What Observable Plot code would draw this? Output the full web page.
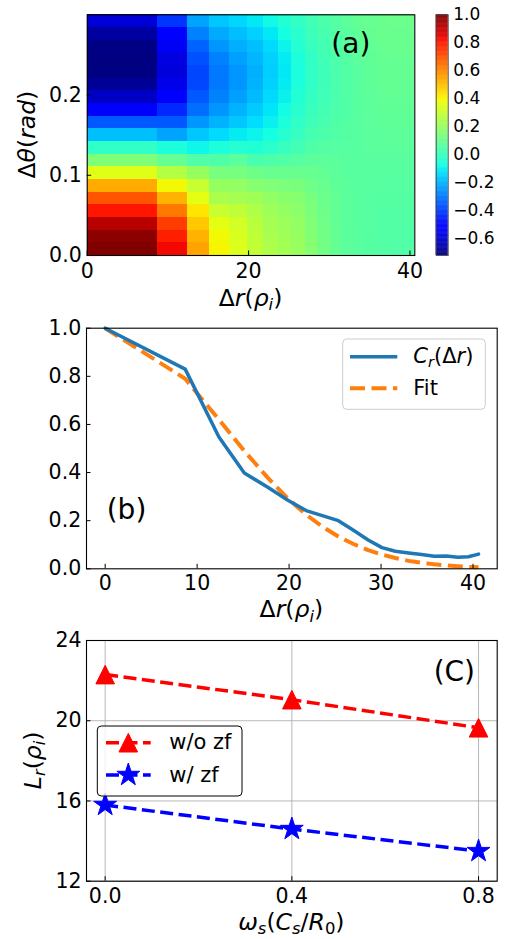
<!DOCTYPE html>
<html>
<head>
<meta charset="utf-8">
<script src="https://cdn.jsdelivr.net/npm/d3@7"></script>
<script src="https://cdn.jsdelivr.net/npm/@observablehq/plot@0.6"></script>
<style>
html, body { margin: 0; padding: 0; background: #fff; }
#page { position: relative; width: 505px; height: 939px; overflow: hidden; font-family: "DejaVu Sans", sans-serif; }
#page svg { position: absolute; }
</style>
</head>
<body>
<div id="page"></div>
<script>
// ---------------- DATA ----------------
// Panel (a): radial grid edges (rho_i) and poloidal grid edges (rad)
const rEdges = [0, 8.7, 12.37, 15.13, 17.64, 19.87, 21.85, 23.7, 25.36, 27.0, 28.6, 30.1, 31.55, 33.0, 34.4, 35.8, 37.1, 38.35, 39.5, 40.6];
const thetaEdges = [0, 0.0158, 0.0316, 0.0474, 0.0632, 0.0789, 0.0947, 0.1105, 0.1263, 0.1421, 0.1579, 0.1737, 0.1895, 0.2053, 0.2211, 0.2368, 0.2526, 0.2684, 0.2842, 0.3];
// correlation values: one array per Δr column, listed from Δθ = 0 upward
const corrColumns = [
  [1.0, 0.98, 0.915, 0.807, 0.692, 0.533, 0.35, 0.145, -0.02, -0.185, -0.357, -0.52, -0.62, -0.69, -0.72, -0.723, -0.715, -0.674, -0.594],
  [0.83, 0.79, 0.733, 0.626, 0.52, 0.39, 0.254, 0.094, -0.06, -0.23, -0.357, -0.44, -0.52, -0.563, -0.585, -0.58, -0.55, -0.52, -0.42],
  [0.548, 0.52, 0.48, 0.426, 0.36, 0.296, 0.195, 0.047, -0.09, -0.17, -0.254, -0.32, -0.357, -0.388, -0.39, -0.37, -0.34, -0.288, -0.23],
  [0.398, 0.39, 0.36, 0.30, 0.238, 0.195, 0.131, 0.046, -0.06, -0.137, -0.206, -0.254, -0.288, -0.305, -0.305, -0.288, -0.254, -0.22, -0.17],
  [0.34, 0.335, 0.32, 0.28, 0.225, 0.19, 0.13, 0.07, -0.04, -0.11, -0.17, -0.206, -0.237, -0.254, -0.254, -0.237, -0.21, -0.187, -0.145],
  [0.285, 0.28, 0.27, 0.245, 0.215, 0.165, 0.11, 0.03, -0.05, -0.095, -0.135, -0.165, -0.19, -0.205, -0.21, -0.2, -0.185, -0.155, -0.115],
  [0.242, 0.235, 0.225, 0.21, 0.185, 0.15, 0.1, 0.04, -0.03, -0.075, -0.1, -0.12, -0.14, -0.155, -0.16, -0.155, -0.14, -0.115, -0.085],
  [0.22, 0.215, 0.205, 0.19, 0.17, 0.14, 0.1, 0.05, -0.005, -0.04, -0.06, -0.08, -0.1, -0.11, -0.115, -0.11, -0.095, -0.075, -0.05],
  [0.20, 0.195, 0.19, 0.175, 0.16, 0.135, 0.1, 0.06, 0.02, -0.005, -0.02, -0.035, -0.05, -0.06, -0.065, -0.06, -0.045, -0.03, -0.015],
  [0.16, 0.155, 0.15, 0.14, 0.13, 0.115, 0.095, 0.07, 0.045, 0.025, 0.01, 0.0, -0.01, -0.02, -0.02, -0.015, -0.005, 0.005, 0.015],
  [0.12, 0.12, 0.115, 0.11, 0.105, 0.095, 0.085, 0.07, 0.055, 0.04, 0.03, 0.02, 0.015, 0.01, 0.01, 0.015, 0.02, 0.03, 0.04],
  [0.09, 0.09, 0.09, 0.085, 0.085, 0.08, 0.075, 0.07, 0.06, 0.05, 0.045, 0.04, 0.035, 0.035, 0.035, 0.04, 0.045, 0.05, 0.055],
  [0.072, 0.07, 0.07, 0.07, 0.07, 0.07, 0.065, 0.065, 0.06, 0.055, 0.055, 0.05, 0.05, 0.05, 0.05, 0.055, 0.06, 0.065, 0.07],
  [0.063, 0.063, 0.063, 0.063, 0.065, 0.065, 0.065, 0.065, 0.065, 0.065, 0.065, 0.065, 0.065, 0.065, 0.065, 0.07, 0.075, 0.08, 0.085],
  [0.057, 0.057, 0.058, 0.06, 0.06, 0.062, 0.065, 0.067, 0.07, 0.07, 0.072, 0.075, 0.075, 0.078, 0.08, 0.082, 0.085, 0.09, 0.095],
  [0.052, 0.052, 0.053, 0.055, 0.057, 0.06, 0.063, 0.066, 0.07, 0.073, 0.076, 0.08, 0.083, 0.085, 0.088, 0.09, 0.095, 0.1, 0.1],
  [0.052, 0.052, 0.053, 0.055, 0.057, 0.06, 0.063, 0.067, 0.07, 0.074, 0.078, 0.082, 0.085, 0.088, 0.09, 0.093, 0.097, 0.1, 0.105],
  [0.048, 0.048, 0.05, 0.052, 0.055, 0.058, 0.062, 0.066, 0.07, 0.074, 0.078, 0.082, 0.085, 0.088, 0.09, 0.093, 0.097, 0.1, 0.105],
  [0.05, 0.05, 0.052, 0.054, 0.057, 0.06, 0.063, 0.067, 0.07, 0.074, 0.078, 0.082, 0.085, 0.088, 0.09, 0.093, 0.097, 0.1, 0.105]
];
const colorMin = -0.723, colorMax = 1.0;
const xTicksA = [0, 20, 40];
const yTicksA = [0, 0.1, 0.2];
const cbTicks = [-0.6, -0.4, -0.2, 0.0, 0.2, 0.4, 0.6, 0.8, 1.0];

// Panel (b): C_r(Δr) and its fit, at the radial grid points
const crValues  = [1.0, 0.83, 0.548, 0.398, 0.34, 0.285, 0.242, 0.22, 0.20, 0.16, 0.12, 0.088, 0.073, 0.066, 0.059, 0.052, 0.053, 0.048, 0.05, 0.061];
const fitValues = [1.0, 0.79, 0.62, 0.49, 0.38, 0.292, 0.225, 0.173, 0.134, 0.103, 0.078, 0.059, 0.045, 0.033, 0.025, 0.0185, 0.014, 0.0103, 0.0078, 0.006];
const xTicksB = [0, 10, 20, 30, 40];
const yTicksB = [0, 0.2, 0.4, 0.6, 0.8, 1.0];

// Panel (c): correlation length vs shear rate
const omegaValues = [0.0, 0.4, 0.8];
const lrWithoutZF = [22.3, 21.05, 19.65];
const lrWithZF    = [15.8, 14.6, 13.5];
const xTicksC = [0.0, 0.4, 0.8];
const yTicksC = [12, 16, 20, 24];

// ---------------- HELPERS ----------------
const FONT = "DejaVu Sans";
const TICK_FS = 20.5, LABEL_FS = 23.5, LEGEND_FS = 21, TAG_FS = 28;
const tickLen = 4.5;

// matplotlib "jet" colormap (piecewise linear)
function seg(pts, t) {
  for (let k = 1; k < pts.length; k++) {
    if (t <= pts[k][0]) {
      const [t0, v0] = pts[k - 1], [t1, v1] = pts[k];
      return v0 + (v1 - v0) * (t - t0) / (t1 - t0);
    }
  }
  return pts[pts.length - 1][1];
}
const jetR = [[0, 0], [0.35, 0], [0.66, 1], [0.89, 1], [1, 0.5]];
const jetG = [[0, 0], [0.125, 0], [0.375, 1], [0.64, 1], [0.91, 0], [1, 0]];
const jetB = [[0, 0.5], [0.11, 1], [0.34, 1], [0.65, 0], [1, 0]];
function jet(t) {
  t = Math.max(0, Math.min(1, t));
  return d3.rgb(255 * seg(jetR, t), 255 * seg(jetG, t), 255 * seg(jetB, t)).formatHex();
}

// matplotlib-like marker shapes (size = pi r^2)
const triMpl = { draw(ctx, size) { const h = Math.sqrt(size / Math.PI); ctx.moveTo(0, -h); ctx.lineTo(h, h); ctx.lineTo(-h, h); ctx.closePath(); } };
const starMpl = { draw(ctx, size) {
  const R = Math.sqrt(size / Math.PI), ri = R * 0.381966;
  for (let k = 0; k < 10; k++) {
    const a = -Math.PI / 2 + k * Math.PI / 5, rr = k % 2 ? ri : R;
    const px = rr * Math.cos(a), py = rr * Math.sin(a);
    k ? ctx.lineTo(px, py) : ctx.moveTo(px, py);
  }
  ctx.closePath();
} };

const baseStyle = { fontFamily: FONT, fontSize: TICK_FS + "px", color: "black", background: "none", overflow: "visible" };
const page = document.getElementById("page");
function place(svg, left, top) { svg.style.left = left + "px"; svg.style.top = top + "px"; page.appendChild(svg); }

// ---------------- PANEL (a) ----------------
const cells = [];
corrColumns.forEach((col, j) => col.forEach((v, i) => cells.push({
  x1: rEdges[j], x2: rEdges[j + 1], y1: thetaEdges[i], y2: thetaEdges[i + 1], v
})));
const A = { w: 430, h: 300, ml: 86.7, mr: 15.7, mt: 14.3, mb: 45 };
const fwA = A.w - A.ml - A.mr, fhA = A.h - A.mt - A.mb;
const plotA = Plot.plot({
  width: A.w, height: A.h, marginLeft: A.ml, marginRight: A.mr, marginTop: A.mt, marginBottom: A.mb,
  style: baseStyle,
  x: { domain: [rEdges[0], rEdges[rEdges.length - 1]], axis: null },
  y: { domain: [thetaEdges[0], thetaEdges[thetaEdges.length - 1]], axis: null },
  color: { type: "linear", domain: [colorMin, colorMax], interpolate: jet },
  marks: [
    Plot.rect(cells, { x1: "x1", x2: "x2", y1: "y1", y2: "y2", fill: "v", shapeRendering: "crispEdges" }),
    Plot.tickX(xTicksA, { x: d => d, stroke: "black", strokeWidth: 1, insetTop: fhA - tickLen }),
    Plot.tickY(yTicksA, { y: d => d, stroke: "black", strokeWidth: 1, insetRight: fwA - tickLen }),
    Plot.axisX({ ticks: xTicksA, tickSize: 0, tickPadding: 7.5, tickFormat: d3.format("d"), label: null, fontSize: TICK_FS }),
    Plot.axisY({ ticks: yTicksA, tickSize: 0, tickPadding: 5.5, tickFormat: d3.format(".1f"), label: null, fontSize: TICK_FS }),
    Plot.text(["(a)"], { text: d => d, frameAnchor: "top-right", dx: -64, dy: 29.5, fontSize: TAG_FS, textAnchor: "middle", lineAnchor: "middle" }),
    Plot.frame({ stroke: "black", strokeWidth: 1.1 })
  ]
});
place(plotA, 0, 0);

// colorbar
const cbStep = 0.004;
const cbSlices = d3.range(colorMin, colorMax, cbStep).map(lo => ({ lo, hi: Math.min(colorMax, lo + cbStep * 1.6), mid: lo + cbStep / 2 }));
const plotCB = Plot.plot({
  width: 70, height: 300, marginLeft: 5.7, marginRight: 52.3, marginTop: 14.3, marginBottom: 45,
  style: baseStyle,
  y: { domain: [colorMin, colorMax], axis: null },
  color: { type: "linear", domain: [colorMin, colorMax], interpolate: jet },
  marks: [
    Plot.rect(cbSlices, { y1: "lo", y2: "hi", fill: "mid" }),
    Plot.axisY({ anchor: "right", ticks: cbTicks, tickSize: 0, tickPadding: 5, tickFormat: d3.format(".1f"), label: null, fontSize: 17 }),
    Plot.frame({ stroke: "#444", strokeWidth: 0.9 })
  ]
});
place(plotCB, 430, 0);

// ---------------- PANEL (b) ----------------
const crData = rEdges.map((r, i) => ({ r, c: crValues[i] }));
const fitData = rEdges.map((r, i) => ({ r, c: fitValues[i] }));
const rSpan = rEdges[rEdges.length - 1] - rEdges[0];
const B = { w: 505, h: 330, ml: 86, mr: 8.3, mt: 27.7, mb: 61.7 };
const fwB = B.w - B.ml - B.mr, fhB = B.h - B.mt - B.mb;
const plotB = Plot.plot({
  width: B.w, height: B.h, marginLeft: B.ml, marginRight: B.mr, marginTop: B.mt, marginBottom: B.mb,
  style: baseStyle,
  x: { domain: [rEdges[0] - 0.05 * rSpan, rEdges[rEdges.length - 1] + 0.05 * rSpan], axis: null },
  y: { domain: [0, 1], axis: null },
  marks: [
    Plot.line(fitData, { x: "r", y: "c", stroke: "#ff7f0e", strokeWidth: 4, strokeDasharray: "15,6.5", strokeLinecap: "butt" }),
    Plot.line(crData, { x: "r", y: "c", stroke: "#1f77b4", strokeWidth: 3.5 }),
    Plot.tickX(xTicksB, { x: d => d, stroke: "black", strokeWidth: 1, insetTop: fhB - tickLen }),
    Plot.tickY(yTicksB, { y: d => d, stroke: "black", strokeWidth: 1, insetRight: fwB - tickLen }),
    Plot.axisX({ ticks: xTicksB, tickSize: 0, tickPadding: 6.7, tickFormat: d3.format("d"), label: null, fontSize: TICK_FS }),
    Plot.axisY({ ticks: yTicksB, tickSize: 0, tickPadding: 5.3, tickFormat: d3.format(".1f"), label: null, fontSize: TICK_FS }),
    Plot.text(["(b)"], { text: d => d, frameAnchor: "bottom-left", dx: 40, dy: -58.3, fontSize: TAG_FS, textAnchor: "middle", lineAnchor: "middle" }),
    Plot.frame({ stroke: "black", strokeWidth: 1.1 })
  ]
});
place(plotB, 0, 300);

// ---------------- PANEL (c) ----------------
const noZF = omegaValues.map((o, i) => ({ o, l: lrWithoutZF[i] }));
const withZF = omegaValues.map((o, i) => ({ o, l: lrWithZF[i] }));
const C = { w: 505, h: 309, ml: 86, mr: 8.3, mt: 10, mb: 58.3 };
const fwC = C.w - C.ml - C.mr, fhC = C.h - C.mt - C.mb;
const oSpan = omegaValues[omegaValues.length - 1] - omegaValues[0];
const dashC = "13,5.5";
const plotC = Plot.plot({
  width: C.w, height: C.h, marginLeft: C.ml, marginRight: C.mr, marginTop: C.mt, marginBottom: C.mb,
  style: baseStyle,
  x: { domain: [omegaValues[0] - 0.05 * oSpan, omegaValues[omegaValues.length - 1] + 0.05 * oSpan], axis: null },
  y: { domain: [12, 24], axis: null },
  marks: [
    Plot.gridX({ ticks: xTicksC, stroke: "#b0b0b0", strokeOpacity: 1, strokeWidth: 0.9 }),
    Plot.gridY({ ticks: yTicksC, stroke: "#b0b0b0", strokeOpacity: 1, strokeWidth: 0.9 }),
    Plot.line(noZF, { x: "o", y: "l", stroke: "#ff0000", strokeWidth: 3.5, strokeDasharray: dashC, strokeLinecap: "butt" }),
    Plot.line(withZF, { x: "o", y: "l", stroke: "#0000ff", strokeWidth: 3.5, strokeDasharray: dashC, strokeLinecap: "butt" }),
    Plot.dot(noZF, { x: "o", y: "l", symbol: triMpl, r: 9.3, fill: "#ff0000", stroke: "#ff0000", strokeWidth: 1 }),
    Plot.dot(withZF, { x: "o", y: "l", symbol: starMpl, r: 12, fill: "#0000ff", stroke: "#0000ff", strokeWidth: 1 }),
    Plot.tickX(xTicksC, { x: d => d, stroke: "black", strokeWidth: 1, insetTop: fhC - tickLen }),
    Plot.tickY(yTicksC, { y: d => d, stroke: "black", strokeWidth: 1, insetRight: fwC - tickLen }),
    Plot.axisX({ ticks: xTicksC, tickSize: 0, tickPadding: 7.5, tickFormat: d3.format(".1f"), label: null, fontSize: TICK_FS }),
    Plot.axisY({ ticks: yTicksC, tickSize: 0, tickPadding: 5, tickFormat: d3.format("d"), label: null, fontSize: TICK_FS }),
    Plot.text(["(C)"], { text: d => d, frameAnchor: "top-right", dx: -42.85, dy: 31.7, fontSize: TAG_FS, textAnchor: "middle", lineAnchor: "middle" }),
    Plot.frame({ stroke: "black", strokeWidth: 1.1 })
  ]
});
place(plotC, 0, 630);

// ---------------- OVERLAY: axis labels and legends ----------------
const ov = d3.create("svg").attr("width", 505).attr("height", 939)
  .style("left", "0px").style("top", "0px")
  .attr("font-family", FONT).attr("fill", "black");

function mathText(x, y, parts, size, opts = {}) {
  const t = ov.append("text").attr("font-size", size)
    .attr("text-anchor", opts.anchor || "middle")
    .attr("transform", `translate(${x},${y}) rotate(${opts.rotate || 0})`);
  let shift = 0;
  for (const p of parts) {
    const ts = t.append("tspan").text(p.t);
    if (p.i) ts.attr("font-style", "italic");
    const target = p.sub ? 0.2 * size : 0;
    if (target !== shift) ts.attr("dy", target - shift);
    shift = target;
    if (p.sub) ts.attr("font-size", size * 0.7);
  }
  return t;
}
const drLabel = [{ t: "Δ" }, { t: "r", i: 1 }, { t: "(" }, { t: "ρ", i: 1 }, { t: "i", i: 1, sub: 1 }, { t: ")" }];
mathText(250.5, 305.5, drLabel, LABEL_FS);
mathText(35.2, 134.6, [{ t: "Δ" }, { t: "θ", i: 1 }, { t: "(" }, { t: "rad", i: 1 }, { t: ")" }], LABEL_FS, { rotate: -90 });
mathText(291.35, 617, drLabel, LABEL_FS);
mathText(291.35, 929.5, [{ t: "ω", i: 1 }, { t: "s", i: 1, sub: 1 }, { t: "(" }, { t: "C", i: 1 }, { t: "s", i: 1, sub: 1 }, { t: "/" }, { t: "R", i: 1 }, { t: "0", sub: 1 }, { t: ")" }], LABEL_FS);
mathText(40.5, 760.3, [{ t: "L", i: 1 }, { t: "r", i: 1, sub: 1 }, { t: "(" }, { t: "ρ", i: 1 }, { t: "i", i: 1, sub: 1 }, { t: ")" }], LABEL_FS, { rotate: -90 });

// legend (b)
ov.append("rect").attr("x", 342.7).attr("y", 339).attr("width", 142.6).attr("height", 70.3).attr("rx", 4)
  .attr("fill", "white").attr("fill-opacity", 0.8).attr("stroke", "#cccccc").attr("stroke-width", 1);
ov.append("line").attr("x1", 350).attr("x2", 397.3).attr("y1", 356.7).attr("y2", 356.7)
  .attr("stroke", "#1f77b4").attr("stroke-width", 3.5);
ov.append("line").attr("x1", 350).attr("x2", 397.3).attr("y1", 388.3).attr("y2", 388.3)
  .attr("stroke", "#ff7f0e").attr("stroke-width", 4).attr("stroke-dasharray", "15,6.5");
mathText(413.3, 362.7, [{ t: "C", i: 1 }, { t: "r", i: 1, sub: 1 }, { t: "(" }, { t: "Δ" }, { t: "r", i: 1 }, { t: ")" }], LEGEND_FS, { anchor: "start" });
mathText(413.3, 395.3, [{ t: "Fit" }], LEGEND_FS, { anchor: "start" });

// legend (c)
ov.append("rect").attr("x", 97.3).attr("y", 726).attr("width", 144.7).attr("height", 70).attr("rx", 4)
  .attr("fill", "white").attr("fill-opacity", 0.8).attr("stroke", "#000").attr("stroke-width", 1);
[[742.7, "#ff0000", triMpl, 9.3, "w/o zf", 749.3], [775, "#0000ff", starMpl, 12, "w/ zf", 781.7]].forEach(([y, col, sym, r, lab, base]) => {
  ov.append("line").attr("x1", 106).attr("x2", 150.7).attr("y1", y).attr("y2", y)
    .attr("stroke", col).attr("stroke-width", 3.5).attr("stroke-dasharray", dashC);
  ov.append("path").attr("d", d3.symbol(sym, Math.PI * r * r)()).attr("transform", `translate(128.3,${y})`)
    .attr("fill", col).attr("stroke", col).attr("stroke-width", 1);
  mathText(169.3, base, [{ t: lab }], LEGEND_FS, { anchor: "start" });
});

page.appendChild(ov.node());
</script>
</body>
</html>
